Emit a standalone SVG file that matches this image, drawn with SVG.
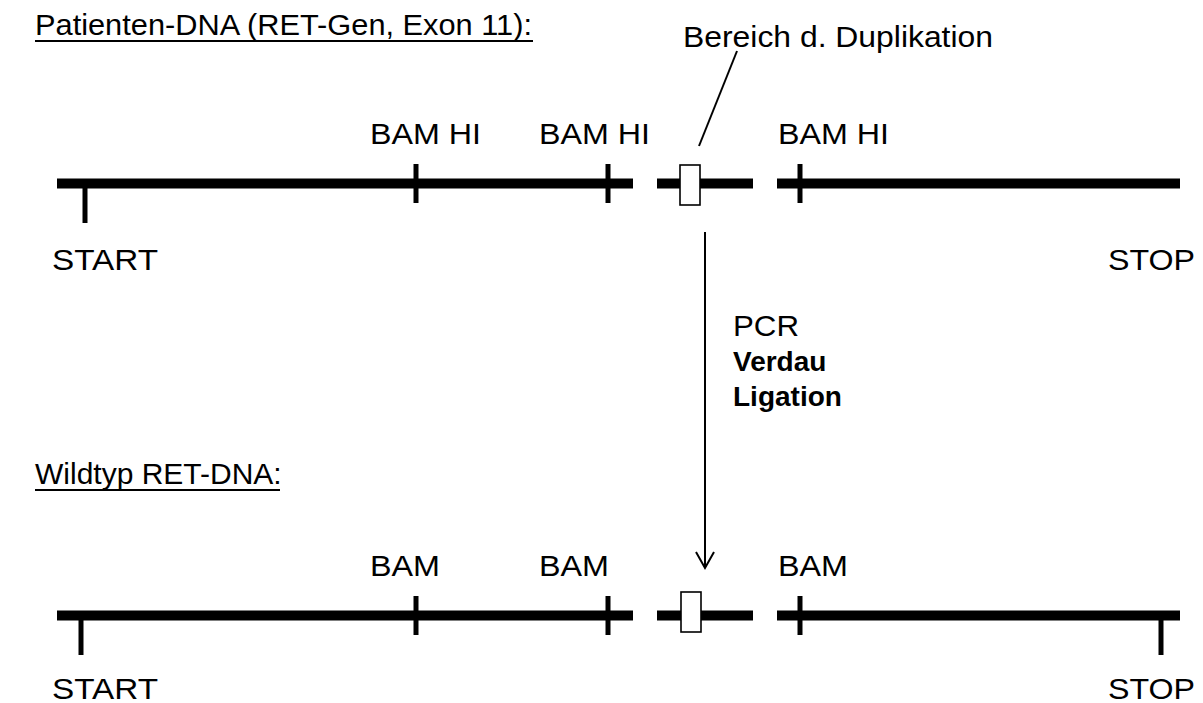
<svg xmlns="http://www.w3.org/2000/svg" width="1203" height="703" viewBox="0 0 1203 703">
<defs>
<style>
.t{font-family:"Liberation Sans",Arial,sans-serif;font-size:30px;fill:#000}
.b{font-weight:bold;font-size:28px}
.dna{stroke:#000;stroke-width:10;fill:none}
.tick{stroke:#000;stroke-width:5;fill:none}
.box{stroke:#000;stroke-width:1.6;fill:#fff}
.thin{stroke:#000;stroke-width:2;fill:none}
</style>
</defs>
<rect width="1203" height="703" fill="#fff"/>
<g id="heading-patient">
<text class="t" x="35" y="35" textLength="497" lengthAdjust="spacingAndGlyphs">Patienten-DNA (RET-Gen, Exon 11):</text>
<line class="thin" x1="35" y1="41" x2="533" y2="41" stroke-width="2.5"/>
</g>
<g id="label-duplikation">
<text class="t" x="683" y="47" textLength="310" lengthAdjust="spacingAndGlyphs">Bereich d. Duplikation</text>
</g>
<g id="dna-patient">
<line class="dna" x1="57" y1="183.5" x2="633" y2="183.5"/>
<line class="dna" x1="657" y1="183.5" x2="753" y2="183.5"/>
<line class="dna" x1="777" y1="183.5" x2="1180" y2="183.5"/>
<line class="tick" x1="85" y1="183" x2="85" y2="223"/>
<line class="tick" x1="416" y1="164" x2="416" y2="203"/>
<line class="tick" x1="608" y1="164" x2="608" y2="203"/>
<line class="tick" x1="800" y1="164" x2="800" y2="203"/>
<rect class="box" x="680" y="165" width="20" height="40"/>
<text class="t" x="370" y="144" textLength="111" lengthAdjust="spacingAndGlyphs">BAM HI</text>
<text class="t" x="539" y="144" textLength="111" lengthAdjust="spacingAndGlyphs">BAM HI</text>
<text class="t" x="778" y="144" textLength="111" lengthAdjust="spacingAndGlyphs">BAM HI</text>
<text class="t" x="52" y="270" textLength="106" lengthAdjust="spacingAndGlyphs">START</text>
<text class="t" x="1108" y="270" textLength="87" lengthAdjust="spacingAndGlyphs">STOP</text>
</g>
<g id="step-labels">
<text class="t" x="733" y="336" textLength="66" lengthAdjust="spacingAndGlyphs">PCR</text>
<text class="t b" x="733" y="371">Verdau</text>
<text class="t b" x="733" y="406">Ligation</text>
</g>
<g id="heading-wildtyp">
<text class="t" x="35" y="484">Wildtyp RET-DNA:</text>
<line class="thin" x1="35" y1="490" x2="280" y2="490" stroke-width="2.5"/>
</g>
<g id="dna-wildtyp">
<line class="dna" x1="57" y1="615.5" x2="633" y2="615.5"/>
<line class="dna" x1="657" y1="615.5" x2="753" y2="615.5"/>
<line class="dna" x1="777" y1="615.5" x2="1180" y2="615.5"/>
<line class="tick" x1="81" y1="615" x2="81" y2="655"/>
<line class="tick" x1="416" y1="596" x2="416" y2="635"/>
<line class="tick" x1="608" y1="596" x2="608" y2="635"/>
<line class="tick" x1="800" y1="596" x2="800" y2="635"/>
<line class="tick" x1="1161" y1="615" x2="1161" y2="655"/>
<rect class="box" x="681" y="592" width="20" height="40"/>
<text class="t" x="370" y="576" textLength="70" lengthAdjust="spacingAndGlyphs">BAM</text>
<text class="t" x="539" y="576" textLength="70" lengthAdjust="spacingAndGlyphs">BAM</text>
<text class="t" x="778" y="576" textLength="70" lengthAdjust="spacingAndGlyphs">BAM</text>
<text class="t" x="52" y="699" textLength="106" lengthAdjust="spacingAndGlyphs">START</text>
<text class="t" x="1108" y="699" textLength="87" lengthAdjust="spacingAndGlyphs">STOP</text>
</g>
<g id="connectors">
<line class="thin" x1="737" y1="51" x2="699" y2="146"/>
<line class="thin" x1="705" y1="232" x2="705" y2="568"/>
<polyline class="thin" points="696,552 705,568 714,552"/>
</g>
</svg>
